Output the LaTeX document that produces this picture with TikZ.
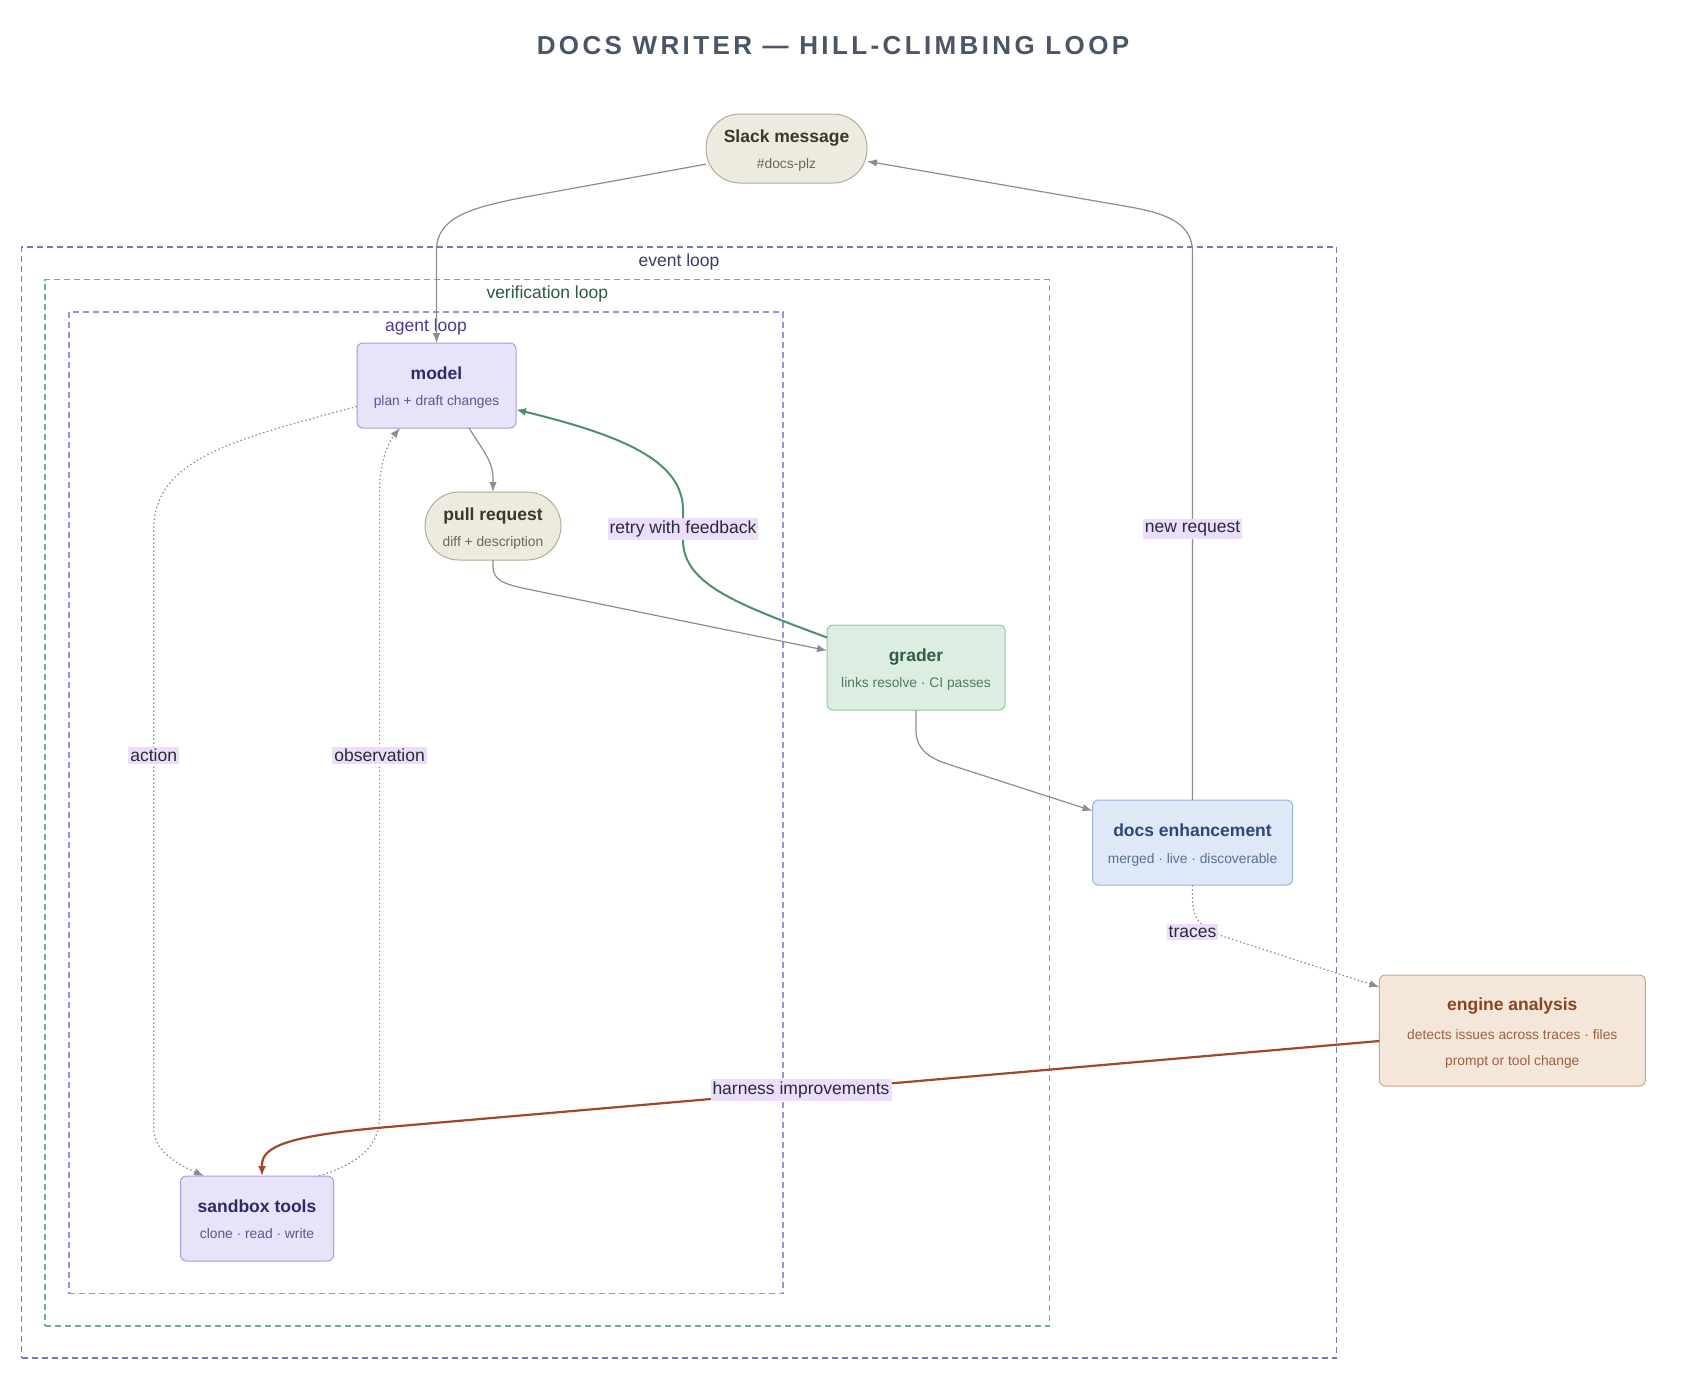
\documentclass[tikz,border=0pt]{standalone}
\usepackage{fontspec}
\setmainfont{Liberation Sans}
\newfontfamily\titlefont{Liberation Sans}[LetterSpace=13]
\usetikzlibrary{arrows.meta,calc}
\definecolor{evBorder}{HTML}{6E7DB5}
\definecolor{evText}{HTML}{34406A}
\definecolor{vfBorder}{HTML}{6FAF90}
\definecolor{vfText}{HTML}{2E5A40}
\definecolor{agBorder}{HTML}{9A8FE0}
\definecolor{agText}{HTML}{463C9A}
\definecolor{beigeFill}{HTML}{EDEADF}
\definecolor{beigeDraw}{HTML}{B3AC94}
\definecolor{beigeTitle}{HTML}{3B3829}
\definecolor{beigeSub}{HTML}{6B6657}
\definecolor{lavFill}{HTML}{E7E4F9}
\definecolor{lavDraw}{HTML}{A79DE2}
\definecolor{lavTitle}{HTML}{2D2A6B}
\definecolor{lavSub}{HTML}{5B5591}
\definecolor{grFill}{HTML}{DCEEE2}
\definecolor{grDraw}{HTML}{8FC7A3}
\definecolor{grTitle}{HTML}{2F5E40}
\definecolor{grSub}{HTML}{4F7A5E}
\definecolor{blFill}{HTML}{DFE8F7}
\definecolor{blDraw}{HTML}{9CB3DA}
\definecolor{blTitle}{HTML}{2B4877}
\definecolor{blSub}{HTML}{5A6E90}
\definecolor{brFill}{HTML}{F5E6DA}
\definecolor{brDraw}{HTML}{D3A586}
\definecolor{brTitle}{HTML}{8A4421}
\definecolor{brSub}{HTML}{9A6243}
\definecolor{lblFill}{HTML}{EBDDFB}
\definecolor{lblText}{HTML}{2B2B33}
\definecolor{edgeGray}{HTML}{8C8C92}
\definecolor{edgeGreen}{HTML}{4C9169}
\definecolor{edgeBrown}{HTML}{A0482C}
\definecolor{titleCol}{HTML}{4A5568}
\tikzset{
  box/.style={draw, line width=1pt, rounded corners=6pt, inner sep=0pt, outer sep=0pt},
  stadium/.style={box, rounded corners=34pt},
  ttl/.style={anchor=base, inner sep=0pt, font=\fontsize{17.5}{20}\selectfont\bfseries},
  subt/.style={anchor=base, inner sep=0pt, font=\fontsize{13.8}{16}\selectfont},
  cluster/.style={draw, dash pattern=on 6pt off 4pt, line width=1.4pt, inner sep=0pt},
  clabel/.style={anchor=base, inner sep=0pt, font=\fontsize{17.5}{20}\selectfont},
  elabel/.style={fill=lblFill, text=lblText, inner xsep=2pt, inner ysep=2.5pt, font=\fontsize{17.5}{20}\selectfont},
  edge/.style={draw=edgeGray, line width=1.2pt, -{Latex[length=10pt,width=7.5pt]}},
  dotedge/.style={edge, dash pattern=on 1.5pt off 2.5pt},
  gedge/.style={draw=edgeGreen, line width=2pt, -{Latex[length=10pt,width=8pt]}},
  bedge/.style={draw=edgeBrown, line width=2.2pt, -{Latex[length=10pt,width=8pt]}},
}
\begin{document}
\begin{tikzpicture}[x=1pt,y=-1pt]
\fill[white] (0,0) rectangle (1686,1398);
\useasboundingbox (0,0) rectangle (1686,1398);

% title
\node[anchor=base, inner sep=0pt, text=titleCol, font=\titlefont\bfseries\fontsize{26}{30}\selectfont] (title) at (833,54.5) {DOCS WRITER — HILL-CLIMBING LOOP};

% clusters
\node[cluster, draw=evBorder, minimum width=1315pt, minimum height=1111pt] (evloop) at (679,802.5) {};
\node[cluster, draw=vfBorder, minimum width=1004.5pt, minimum height=1046.4pt] (vfloop) at (547.3,802.8) {};
\node[cluster, draw=agBorder, minimum width=714pt, minimum height=981.6pt] (agloop) at (426,802.8) {};
\node[clabel, text=evText] (evlbl) at (679,266) {event loop};
\node[clabel, text=vfText] (vflbl) at (547.3,298.5) {verification loop};
\node[clabel, text=agText] (aglbl) at (426,331) {agent loop};

% nodes
\node[stadium, fill=beigeFill, draw=beigeDraw, minimum width=161pt, minimum height=69pt] (slack) at (786.5,148.5) {};
\node[ttl, text=beigeTitle] (slackT) at ($(slack.center)+(0,-6)$) {Slack message};
\node[subt, text=beigeSub] (slackS) at ($(slack.center)+(0,20.2)$) {\#docs-plz};

\node[box, fill=lavFill, draw=lavDraw, minimum width=159pt, minimum height=85pt] (model) at (436.5,385.5) {};
\node[ttl, text=lavTitle] (modelT) at ($(model.center)+(0,-6.5)$) {model};
\node[subt, text=lavSub] (modelS) at ($(model.center)+(0,20.4)$) {plan + draft changes};

\node[stadium, fill=beigeFill, draw=beigeDraw, minimum width=136pt, minimum height=68pt] (pr) at (493,526) {};
\node[ttl, text=beigeTitle] (prT) at ($(pr.center)+(0,-6)$) {pull request};
\node[subt, text=beigeSub] (prS) at ($(pr.center)+(0,20.2)$) {diff + description};

\node[box, fill=grFill, draw=grDraw, minimum width=178pt, minimum height=85pt] (grader) at (916,667.5) {};
\node[ttl, text=grTitle] (graderT) at ($(grader.center)+(0,-6.5)$) {grader};
\node[subt, text=grSub] (graderS) at ($(grader.center)+(0,20.4)$) {links resolve · CI passes};

\node[box, fill=blFill, draw=blDraw, minimum width=200pt, minimum height=85pt] (docs) at (1192.5,842.5) {};
\node[ttl, text=blTitle] (docsT) at ($(docs.center)+(0,-6.5)$) {docs enhancement};
\node[subt, text=blSub] (docsS) at ($(docs.center)+(0,20.6)$) {merged · live · discoverable};

\node[box, fill=brFill, draw=brDraw, minimum width=266pt, minimum height=111pt] (engine) at (1512.3,1030.5) {};
\node[ttl, text=brTitle] (engineT) at ($(engine.center)+(0,-20.3)$) {engine analysis};
\node[subt, text=brSub] (engineS1) at ($(engine.center)+(0,8.5)$) {detects issues across traces · files};
\node[subt, text=brSub] (engineS2) at ($(engine.center)+(0,34.5)$) {prompt or tool change};

\node[box, fill=lavFill, draw=lavDraw, minimum width=153pt, minimum height=85pt] (sandbox) at (257,1218.5) {};
\node[ttl, text=lavTitle] (sandboxT) at ($(sandbox.center)+(0,-6.5)$) {sandbox tools};
\node[subt, text=lavSub] (sandboxS) at ($(sandbox.center)+(0,20.4)$) {clone · read · write};

% edges
\draw[edge] (slack.191) -- (520,198) .. controls (470,208) and (436.5,218) .. (436.5,250) -- (model.north);
\draw[edge] (docs.north) -- (1192.5,252) .. controls (1192.5,225) and (1170,214) .. (1130,207) -- (slack.-9);
\draw[edge] ($(model.south)+(32.5,0)$) .. controls (484,452) and (493,462) .. (493,478) -- (pr.north);
\draw[edge] (pr.south) -- (493,566) .. controls (493,580) and (503,584) .. (527,589) -- ($(grader.west)+(0,-17)$);
\draw[gedge] ($(grader.west)+(0,-30)$) .. controls (740,605) and (683,585) .. (683,540) -- (683,510) .. controls (683,460) and (620,435) .. ($(model.east)+(0,24)$);
\draw[edge] (grader.south) -- (916,730) .. controls (916,748) and (927,757) .. (946,763.5) -- ($(docs.west)+(0,-31.7)$);
\draw[dotedge] ($(model.west)+(0,21)$) .. controls (230,440) and (153.7,460) .. (153.7,530) -- (153.7,1128) .. controls (153.7,1150) and (175,1163) .. ($(sandbox.north)+(-53,0)$);
\draw[dotedge] ($(sandbox.north)+(62,0)$) .. controls (362,1162) and (379.6,1145) .. (379.6,1115) -- (379.6,490) .. controls (379.6,460) and (390,440) .. ($(model.south)+(-36.5,0)$);
\draw[dotedge] (docs.south) -- (1192.5,898) .. controls (1192.5,918) and (1200,928) .. (1222,936) -- ($(engine.west)+(0,-43.5)$);
\draw[bedge] ($(engine.west)+(0,10.5)$) -- (380,1127.7) .. controls (290,1136) and (262,1146) .. (262,1165) -- ($(sandbox.north)+(5,0)$);

% edge labels
\node[elabel] (lretry) at (683,529) {retry with feedback};
\node[elabel] (lnew) at (1192.5,529) {new request};
\node[elabel] (laction) at (153.7,755.5) {action};
\node[elabel] (lobs) at (379.6,755.5) {observation};
\node[elabel] (ltraces) at (1192.5,932) {traces};
\node[elabel] (lharness) at (801,1090) {harness improvements};
\end{tikzpicture}
\end{document}
